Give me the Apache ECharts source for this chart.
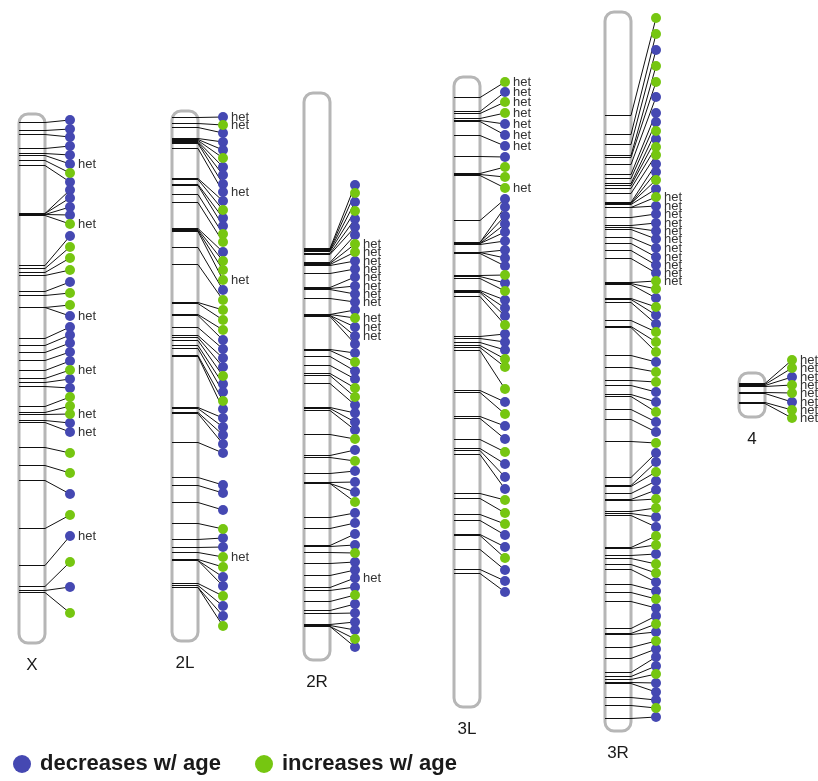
<!DOCTYPE html>
<html>
<head>
<meta charset="utf-8">
<script src="https://cdn.jsdelivr.net/npm/echarts@6/dist/echarts.min.js"></script>
<style>
  html, body { margin: 0; padding: 0; background: #ffffff; }
  #chart { width: 818px; height: 781px; }
</style>
</head>
<body>
<div id="chart"></div>
<script>
// Chromosome arms and their extent along the track axis
const chromNames  = ['X', '2L', '2R', '3L', '3R', '4'];
const chromTop    = [114, 111, 93, 77, 12, 373];
const chromBottom = [643, 641, 660, 707, 731, 417];

// Per arm: gene position on the arm, spread-out marker position, direction (1 = increases), het flag (1-based indices)
const X_gene = [122,130,134,148,153,155,160,165,213,213,214,214,215,265,268,272,275,291,295,307,307,338,345,352,360,370,378,382,386,406,412,414,420,422,447,465,480,528,565,586,590,592];
const X_dot  = [120,129,137,146,155,164,173,182,190,198,207,215,224,236,247,258,270,282,293,305,316,327,335,343,352,361,370,379,388,397,406,414,423,432,453,473,494,515,536,562,587,613];
const X_up   = [0,0,0,0,0,0,1,0,0,0,0,0,1,0,1,1,1,0,1,1,0,0,0,0,0,0,1,0,0,1,1,1,0,0,1,1,0,1,0,1,0,1];
const X_het  = [6,13,21,27,32,34,39];

const L2_gene = [117,123,127,138,139,140,141,142,143,148,178,179,184,185,194,202,228,229,230,231,247,264,302,303,314,315,327,335,337,340,345,348,355,356,407,408,412,413,442,477,485,502,523,539,547,552,559,560,560,583,585,587,587];
const L2_dot  = [117,125,133,142,150,158,167,175,184,192,201,210,218,226,234,242,252,261,270,280,290,300,310,320,330,340,349,358,367,376,384,392,401,409,418,427,435,444,453,485,493,510,529,538,547,557,567,577,586,596,606,616,626];
const L2_up   = [0,1,0,0,0,1,0,0,0,0,0,1,0,0,1,1,0,1,1,1,0,1,1,1,1,0,0,0,0,1,0,0,1,0,0,0,0,0,0,0,0,0,1,0,0,1,1,0,0,1,0,0,1];
const L2_het  = [1,2,10,20,46];

const R2_gene = [248,249,250,251,253,254,262,263,264,265,273,287,288,289,298,314,314,315,315,316,349,350,356,365,373,375,383,407,408,410,434,455,457,473,482,483,483,517,528,545,546,552,563,575,587,590,601,610,613,624,625,626,626];
const R2_dot  = [185,193,202,211,219,227,235,244,252,261,269,277,286,294,302,310,318,327,336,344,353,362,371,379,388,397,405,413,422,430,439,450,461,471,482,492,502,513,523,534,545,553,562,570,578,587,595,604,613,622,630,639,647];
const R2_up   = [0,1,0,1,0,0,0,1,1,0,0,0,0,0,0,0,1,0,0,0,0,1,0,0,1,1,0,0,0,0,1,0,1,0,0,0,1,0,0,0,0,1,0,0,0,0,1,0,0,0,0,1,0];
const R2_het  = [8,9,10,11,12,13,14,15,17,18,19,45];

const L3_gene = [97,111,113,118,120,121,135,156,173,174,175,220,242,242,243,243,244,252,252,253,275,276,278,290,291,292,296,336,338,342,345,347,350,390,392,416,418,439,448,450,454,493,498,514,520,534,535,549,569,573];
const L3_dot  = [82,92,102,113,124,135,146,157,167,177,188,199,207,216,224,232,241,250,258,266,275,283,291,300,308,316,325,334,342,350,359,367,389,402,414,426,439,452,464,477,489,500,513,524,535,547,558,570,581,592];
const L3_up   = [1,0,1,1,0,0,0,0,1,1,1,0,0,0,0,0,0,0,0,0,1,0,1,0,0,0,1,0,0,0,1,1,1,0,1,0,0,1,0,0,0,1,1,1,0,0,1,0,0,0];
const L3_het  = [1,2,3,4,5,6,7,11];

const R3_gene = [115,134,144,155,157,164,174,178,183,185,188,193,202,203,203,204,207,207,217,225,227,229,237,243,250,258,282,283,284,298,299,302,320,326,327,355,367,380,385,394,396,409,419,441,477,485,486,493,499,500,511,513,515,547,548,555,558,564,569,584,592,601,628,633,634,647,658,672,676,679,682,683,697,705,718];
const R3_dot  = [18,34,50,66,82,97,113,122,131,139,147,155,164,172,180,189,197,206,214,223,231,239,248,257,265,273,281,289,298,307,315,324,332,342,352,362,372,382,392,402,412,422,432,443,453,462,472,481,490,499,508,517,527,536,545,554,564,573,582,591,599,608,616,624,632,641,649,657,666,674,683,692,700,708,717];
const R3_up   = [1,1,0,1,1,0,0,0,1,0,1,1,0,0,1,0,1,0,0,0,0,0,0,0,0,0,1,1,0,1,0,0,1,1,1,0,1,1,0,0,1,0,0,1,0,0,1,0,0,1,1,0,0,1,1,0,1,1,0,0,1,0,0,1,0,1,0,0,0,1,0,0,0,1,0];
const R3_het  = [17,18,19,20,21,22,23,24,25,26,27];

const C4_gene = [383,384,385,386,392,393,402,403];
const C4_dot  = [360,368,377,385,393,402,410,418];
const C4_up   = [1,1,0,1,1,0,1,1];
const C4_het  = [1,2,3,4,5,6,7,8];

const armGenes = [X_gene, L2_gene, R2_gene, L3_gene, R3_gene, C4_gene];
const armDots  = [X_dot,  L2_dot,  R2_dot,  L3_dot,  R3_dot,  C4_dot];
const armUp    = [X_up,   L2_up,   R2_up,   L3_up,   R3_up,   C4_up];
const armHet   = [X_het,  L2_het,  R2_het,  L3_het,  R3_het,  C4_het];

const seriesDown = 'decreases w/ age';
const seriesUp   = 'increases w/ age';

// ---- layout (horizontal placement of the arms) ----
const armCenterX = [32, 185, 317, 467, 618, 752];
const markOffset = [38, 38, 38, 38, 38, 40];  // arm centre -> marker column
const HALF_W = 13;
const BLUE = '#4548b2';
const GREEN = '#76c611';
const FONT = 'Liberation Sans, Arial, sans-serif';

const armRows = chromNames.map((n, i) => [i, chromTop[i], chromBottom[i]]);
const linkRows = [];
const downPts = [];
const upPts = [];
armGenes.forEach((genes, a) => {
  const mx = armCenterX[a] + markOffset[a];
  genes.forEach((g, k) => {
    linkRows.push([a, g, armDots[a][k]]);
    const het = armHet[a].indexOf(k + 1) >= 0;
    const item = { value: [mx, armDots[a][k]], label: { show: het } };
    (armUp[a][k] ? upPts : downPts).push(item);
  });
});

const hetLabel = {
  show: false, position: 'right', distance: 3, formatter: 'het',
  fontSize: 13, color: '#333', fontFamily: FONT
};

// snap a horizontal stroke to the pixel grid so 1px lines stay crisp
const snap = v => Math.round(v) + 0.5;

const chart = echarts.init(document.getElementById('chart'), null, { renderer: 'canvas' });
chart.setOption({
  animation: false,
  backgroundColor: '#ffffff',
  grid: { left: 0, right: 0, top: 0, bottom: 0 },
  xAxis: { type: 'value', min: 0, max: 818, show: false },
  yAxis: { type: 'value', min: 0, max: 781, inverse: true, show: false },
  legend: {
    data: [seriesDown, seriesUp],
    left: 13, top: 753, padding: 0,
    icon: 'circle', itemWidth: 18, itemHeight: 18, itemGap: 34,
    textStyle: { fontSize: 22, fontWeight: 'bold', color: '#1a1a1a', fontFamily: FONT, padding: [0, 0, 0, 4] }
  },
  series: [
    {
      type: 'custom', name: 'arms', z: 1, silent: true,
      data: armRows,
      renderItem(params, api) {
        const i = api.value(0);
        const p1 = api.coord([armCenterX[i] - HALF_W, api.value(1)]);
        const p2 = api.coord([armCenterX[i] + HALF_W, api.value(2)]);
        return {
          type: 'group',
          children: [
            { type: 'rect',
              shape: { x: p1[0], y: p1[1], width: p2[0] - p1[0], height: p2[1] - p1[1], r: 9 },
              style: { fill: '#ffffff', stroke: '#b6b6b6', lineWidth: 3 } },
            { type: 'text',
              style: { text: chromNames[i], x: (p1[0] + p2[0]) / 2, y: p2[1] + 22,
                       align: 'center', verticalAlign: 'middle',
                       fontSize: 17, fill: '#1a1a1a', fontFamily: FONT } }
          ]
        };
      }
    },
    {
      type: 'custom', name: 'links', z: 2, silent: true,
      data: linkRows,
      renderItem(params, api) {
        const a = api.value(0);
        const left = api.coord([armCenterX[a] - HALF_W, api.value(1)]);
        const right = api.coord([armCenterX[a] + HALF_W, api.value(1)]);
        const mark = api.coord([armCenterX[a] + markOffset[a], api.value(2)]);
        const y = snap(left[1]);
        return {
          type: 'polyline',
          shape: { points: [[left[0], y], [right[0], y], mark] },
          style: { stroke: '#111111', lineWidth: 1, fill: null }
        };
      }
    },
    {
      type: 'scatter', name: seriesDown, z: 3,
      symbol: 'circle', symbolSize: 10,
      itemStyle: { color: BLUE, opacity: 1 },
      label: hetLabel,
      data: downPts
    },
    {
      type: 'scatter', name: seriesUp, z: 3,
      symbol: 'circle', symbolSize: 10,
      itemStyle: { color: GREEN, opacity: 1 },
      label: hetLabel,
      data: upPts
    }
  ]
});
</script>
</body>
</html>
